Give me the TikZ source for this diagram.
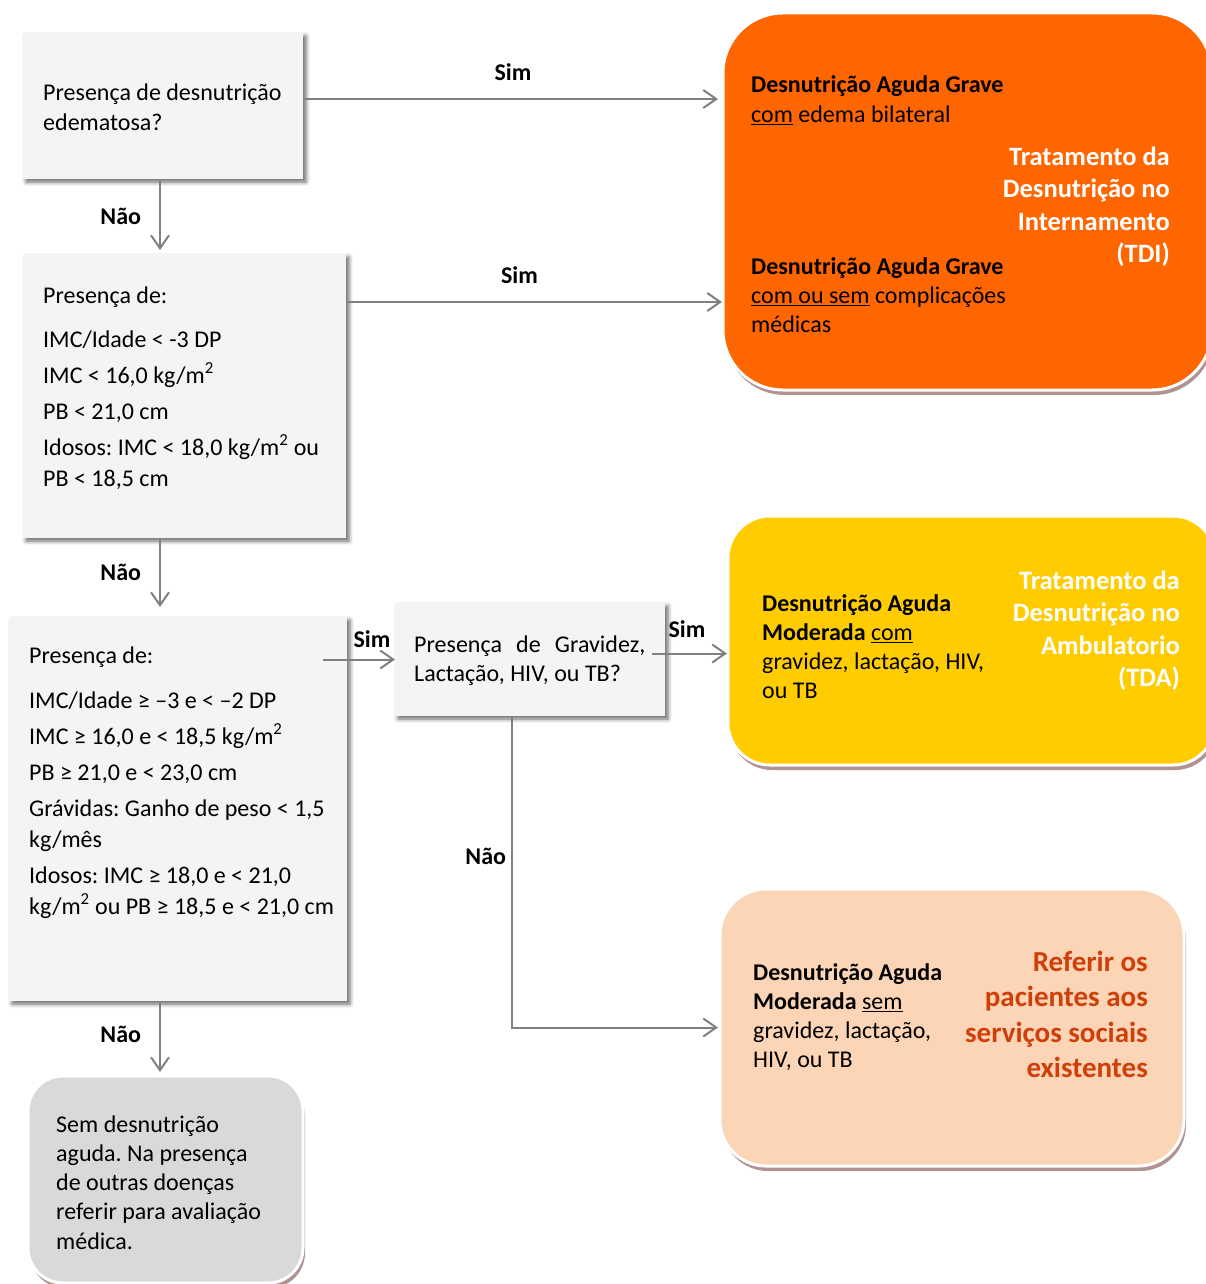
\documentclass[tikz,border=0pt]{standalone}
\usepackage{fontspec}
\setmainfont{Carlito}
\frenchspacing
\usetikzlibrary{arrows.meta,shadows,shadows.blur,positioning}

\definecolor{qfill}{RGB}{244,244,244}
\definecolor{arrgray}{RGB}{128,128,128}
\definecolor{tdiorange}{RGB}{255,102,0}
\definecolor{tdayellow}{RGB}{255,204,0}
\definecolor{peach}{RGB}{251,213,181}
\definecolor{boxgray}{RGB}{217,217,217}
\definecolor{refred}{RGB}{208,62,10}
\definecolor{shadowc}{RGB}{176,148,148}

\tikzset{
  qbox/.style={fill=qfill, anchor=north west, inner sep=0pt, outer sep=0pt,
    blur shadow={shadow xshift=3pt, shadow yshift=-3pt, shadow blur radius=4pt, shadow opacity=60}},
  rbox/.style={draw=white, line width=3pt, anchor=north west, inner sep=0pt, outer sep=0pt,
    drop shadow={shadow xshift=2pt, shadow yshift=-5pt, fill=shadowc, opacity=1}},
  % text nodes are placed by the baseline of their last line
  txt/.style={anchor=base west, align=left, inner sep=0pt, font=\fontsize{24}{29.3}\selectfont},
  listtxt/.style={txt, font=\fontsize{24}{31}\selectfont},
  bigtxt/.style={anchor=base east, align=right, inner sep=0pt},
  lbl/.style={font=\fontsize{24}{29.3}\selectfont\bfseries, inner sep=0pt},
  arr/.style={draw=arrgray, line width=2pt, -{Straight Barb[length=13pt,width=18pt]}},
}

\begin{document}
\begin{tikzpicture}[x=1pt, y=-1pt]
\useasboundingbox (0,0) rectangle (1205,1284);

% question boxes
\node[qbox, minimum width=280pt, minimum height=146pt] (q1) at (23,33) {};
\node[qbox, minimum width=323pt, minimum height=284pt] (q2) at (23,254) {};
\node[qbox, minimum width=338pt, minimum height=384pt] (q3) at (9,617) {};
\node[qbox, minimum width=270pt, minimum height=113pt] (q4) at (395,603) {};

% result boxes
\node[rbox, fill=tdiorange, rounded corners=60pt, minimum width=489pt, minimum height=377pt] (oa) at (723,13) {};
\node[rbox, fill=tdayellow, rounded corners=42pt, minimum width=487pt, minimum height=249pt] (ya) at (728,516) {};
\node[rbox, fill=peach, rounded corners=46pt, minimum width=464pt, minimum height=277pt] (pa) at (720,889) {};
\node[rbox, fill=boxgray, rounded corners=35pt, minimum width=275pt, minimum height=207pt] (ga) at (28,1076) {};

% texts
\node[txt] (t1) at (43,130.3) {Presença de desnutrição\\edematosa?};
\node[listtxt] (t2) at (43,486) {Presença de:\\[13pt]
  IMC/Idade < -3 DP\\[5pt]
  IMC < 16,0 kg/m\textsuperscript{2}\\[5pt]
  PB < 21,0 cm\\[5pt]
  Idosos: IMC < 18,0 kg/m\textsuperscript{2} ou\\
  PB < 18,5 cm};
\node[listtxt] (t3) at (29,914) {Presença de:\\[14pt]
  IMC/Idade ≥ –3 e < –2 DP\\[5pt]
  IMC ≥ 16,0 e < 18,5 kg/m\textsuperscript{2}\\[5pt]
  PB ≥ 21,0 e < 23,0 cm\\[5pt]
  Grávidas: Ganho de peso < 1,5\\
  kg/mês\\[5pt]
  Idosos: IMC ≥ 18,0 e < 21,0\\
  kg/m\textsuperscript{2} ou PB ≥ 18,5 e < 21,0 cm};
\node[txt] (t4) at (414,681.3) {\makebox[231pt][s]{Presença de Gravidez,}\\Lactação, HIV, ou TB?};

\node[txt] (o1) at (751,122.3) {\textbf{Desnutrição Aguda Grave}\\\underline{com} edema bilateral};
\node[txt] (o2) at (751,332.6) {\textbf{Desnutrição Aguda Grave}\\\underline{com ou sem} complicações\\médicas};
\node[bigtxt, text=white, font=\fontsize{26.5}{32.5}\selectfont\bfseries] (ot) at (1170,262.5)
  {Tratamento da\\Desnutrição no\\Internamento\\(TDI)};

\node[txt] (y1) at (762,698.9) {\textbf{Desnutrição Aguda}\\\textbf{Moderada} \underline{com}\\gravidez, lactação, HIV,\\ou TB};
\node[bigtxt, text=white, font=\fontsize{26.5}{32.5}\selectfont\bfseries] (yt) at (1180,686.5)
  {Tratamento da\\Desnutrição no\\Ambulatorio\\(TDA)};

\node[txt] (p1) at (753,1067.9) {\textbf{Desnutrição Aguda}\\\textbf{Moderada} \underline{sem}\\gravidez, lactação,\\HIV, ou TB};
\node[bigtxt, text=refred, font=\fontsize{29}{35.6}\selectfont\bfseries] (pt) at (1148,1077.8)
  {Referir os\\pacientes aos\\serviços sociais\\existentes};

\node[txt] (g1) at (56,1249.2) {Sem desnutrição\\aguda. Na presença\\de outras doenças\\referir para avaliação\\médica.};

% connectors
\coordinate (axis) at (160,0);
\draw[arr, shorten >=5pt] ([yshift=7pt]q1.east) -- ([yshift=7pt]q1.east -| oa.west)
  node[lbl, midway, above=17pt] {Sim};
\draw[arr, shorten >=1pt] ([yshift=-48pt]q2.north east) -- ([yshift=-48pt]q2.north east -| oa.west)
  node[lbl, pos=0.46, above=17pt] {Sim};
\draw[arr, shorten >=4pt] (axis |- q1.south) -- (axis |- q2.north)
  node[lbl, midway, left=18pt] {Não};
\draw[arr, shorten >=10pt] (axis |- q2.south) -- (axis |- q3.north)
  node[lbl, pos=0.43, left=18pt] {Não};
\draw[arr] ([xshift=-24pt]q3.east |- q4.west) -- (q4.west)
  node[lbl, pos=0.68, above=11pt] {Sim};
\draw[arr, shorten >=1pt] ([xshift=-13pt,yshift=6pt]q4.east) -- ([yshift=6pt]q4.east -| ya.west)
  node[lbl, pos=0.46, above=15pt] {Sim};
\draw[arr, shorten >=2pt] ([xshift=-18pt]q4.south) |- (pa.west)
  node[lbl, pos=0.225, left=5pt] {Não};
\draw[arr, shorten >=4pt] (axis |- q3.south) -- (axis |- ga.north)
  node[lbl, pos=0.45, left=18pt] {Não};

\end{tikzpicture}
\end{document}
